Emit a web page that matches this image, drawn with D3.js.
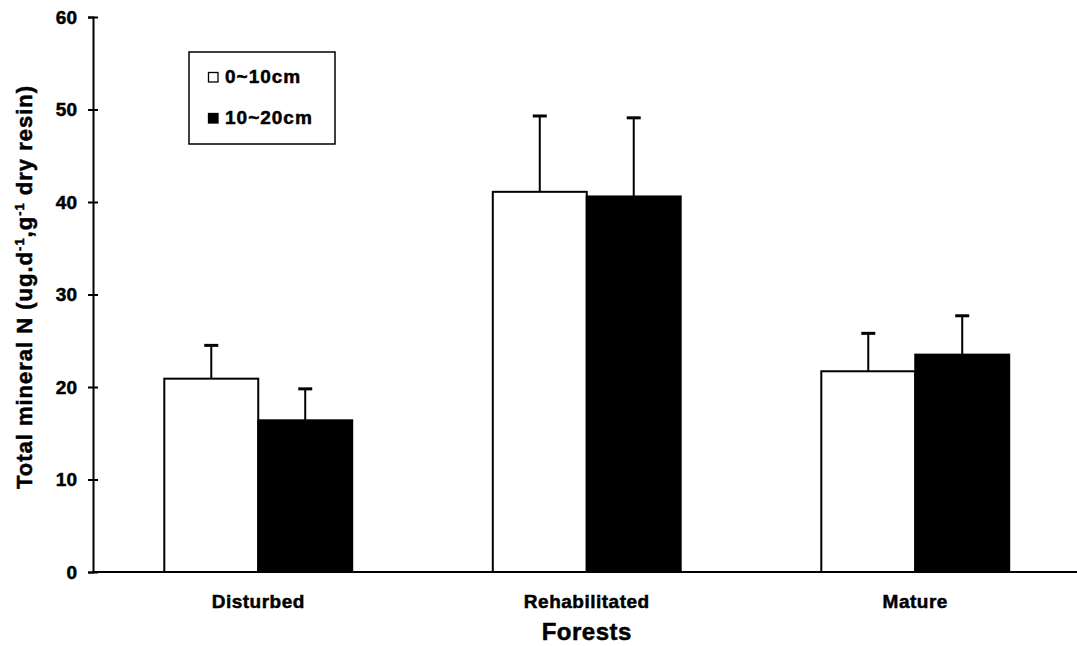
<!DOCTYPE html>
<html>
<head>
<meta charset="utf-8">
<script src="https://cdn.jsdelivr.net/npm/d3@7"></script>
<style>
  html, body { margin: 0; padding: 0; background: #fff; }
  svg { display: block; }
  text { font-family: "Liberation Sans", Arial, sans-serif; font-weight: bold; fill: #000; }
  .heavy text, text.heavy { stroke: #000; stroke-width: 0.5px; }
</style>
</head>
<body>
<svg id="chart" width="1077" height="646"></svg>
<script>
// Forest types and soil depth layers
const categories = ["Disturbed", "Rehabilitated", "Mature"];
const seriesNames = ["0~10cm", "10~20cm"];
// Mean total mineral N per layer
const depth0to10 = [20.9, 41.1, 21.7];
const depth10to20 = [16.4, 40.6, 23.5];
// Standard errors (upper whisker only)
const err0to10 = [3.6, 8.2, 4.1];
const err10to20 = [3.4, 8.5, 4.2];
const yTicks = [0, 10, 20, 30, 40, 50, 60];

const fills = ["#ffffff", "#000000"];
const rows = categories.map((c, i) => ({
  cat: c,
  vals: [
    { s: 0, v: depth0to10[i], e: err0to10[i] },
    { s: 1, v: depth10to20[i], e: err10to20[i] }
  ]
}));

const svg = d3.select("#chart");
const axisX0 = 93, axisY0 = 572, topY = 17;
const FONT = "Liberation Sans";

const y = d3.scaleLinear().domain([0, 60]).range([axisY0, topY]);
const x0 = d3.scaleBand().domain(categories)
  .range([94, 1079.5]).paddingInner(0.428).paddingOuter(0.214);
const x1 = d3.scaleBand().domain([0, 1]).range([0, x0.bandwidth()]);

// Bars
const groups = svg.append("g").selectAll("g").data(rows).join("g")
  .attr("transform", d => `translate(${x0(d.cat)},0)`);

// Error bars drawn first so the bar outline sits on top
groups.selectAll("g.err").data(d => d.vals).join("g").attr("class", "err")
  .each(function(d) {
    const g = d3.select(this);
    const cx = x1(d.s) + x1.bandwidth() / 2;
    g.append("line").attr("x1", cx).attr("x2", cx)
      .attr("y1", y(d.v)).attr("y2", y(d.v + d.e))
      .attr("stroke", "#000").attr("stroke-width", 2);
    g.append("line").attr("x1", cx - 7).attr("x2", cx + 7)
      .attr("y1", y(d.v + d.e)).attr("y2", y(d.v + d.e))
      .attr("stroke", "#000").attr("stroke-width", 3);
  });

groups.selectAll("rect").data(d => d.vals).join("rect")
  .attr("x", d => x1(d.s))
  .attr("y", d => y(d.v))
  .attr("width", x1.bandwidth())
  .attr("height", d => y(0) - y(d.v))
  .attr("fill", d => fills[d.s])
  .attr("stroke", "#000").attr("stroke-width", 2);

// Y axis
const yAxis = svg.append("g").attr("class", "heavy").attr("transform", `translate(${axisX0},0)`)
  .call(d3.axisLeft(y).tickValues(yTicks).tickSizeOuter(0).tickSize(5).tickPadding(11));
yAxis.select(".domain").attr("stroke-width", 2);
yAxis.selectAll(".tick line").attr("x1", -5).attr("x2", 5).attr("stroke-width", 2);
yAxis.selectAll(".tick text").attr("font-size", 19)
  .attr("font-family", FONT).attr("font-weight", "bold").attr("fill", "#000");

// X axis baseline
svg.append("line").attr("x1", axisX0).attr("x2", 1077)
  .attr("y1", axisY0).attr("y2", axisY0)
  .attr("stroke", "#000").attr("stroke-width", 2);

// Category labels
const xAxis = svg.append("g").attr("class", "heavy").attr("transform", `translate(0,${axisY0})`)
  .call(d3.axisBottom(x0).tickSize(0).tickPadding(23));
xAxis.select(".domain").remove();
xAxis.selectAll(".tick text").attr("font-size", 19).attr("letter-spacing", 0.5)
  .attr("font-family", FONT).attr("font-weight", "bold").attr("fill", "#000");

// Axis titles
svg.append("text").attr("class", "heavy")
  .attr("x", x0("Rehabilitated") + x0.bandwidth() / 2).attr("y", 640)
  .attr("text-anchor", "middle").attr("font-size", 24).attr("letter-spacing", 0.5)
  .text("Forests");

const yTitle = svg.append("text").attr("class", "heavy")
  .attr("transform", "translate(32,287) rotate(-90)")
  .attr("text-anchor", "middle").attr("font-size", 22).attr("letter-spacing", 1);
yTitle.append("tspan").text("Total mineral N (ug.d");
yTitle.append("tspan").attr("dy", -8).attr("font-size", 13).text("-1");
yTitle.append("tspan").attr("dy", 8).text(",g");
yTitle.append("tspan").attr("dy", -8).attr("font-size", 13).text("-1");
yTitle.append("tspan").attr("dy", 8).text(" dry resin)");

// Legend
const legend = svg.append("g").attr("transform", "translate(189,52)");
legend.append("rect").attr("width", 146).attr("height", 92)
  .attr("fill", "#fff").attr("stroke", "#000").attr("stroke-width", 1.5);
seriesNames.forEach((name, i) => {
  const ly = 20 + i * 41;
  legend.append("rect").attr("x", 19.5).attr("y", ly + 0.5).attr("width", 9.5).attr("height", 9.5)
    .attr("fill", fills[i]).attr("stroke", "#000").attr("stroke-width", 1.3);
  legend.append("text").attr("class", "heavy").attr("x", 36).attr("y", ly + 10.5)
    .attr("font-size", 19).attr("letter-spacing", 1).text(name);
});
</script>
</body>
</html>
